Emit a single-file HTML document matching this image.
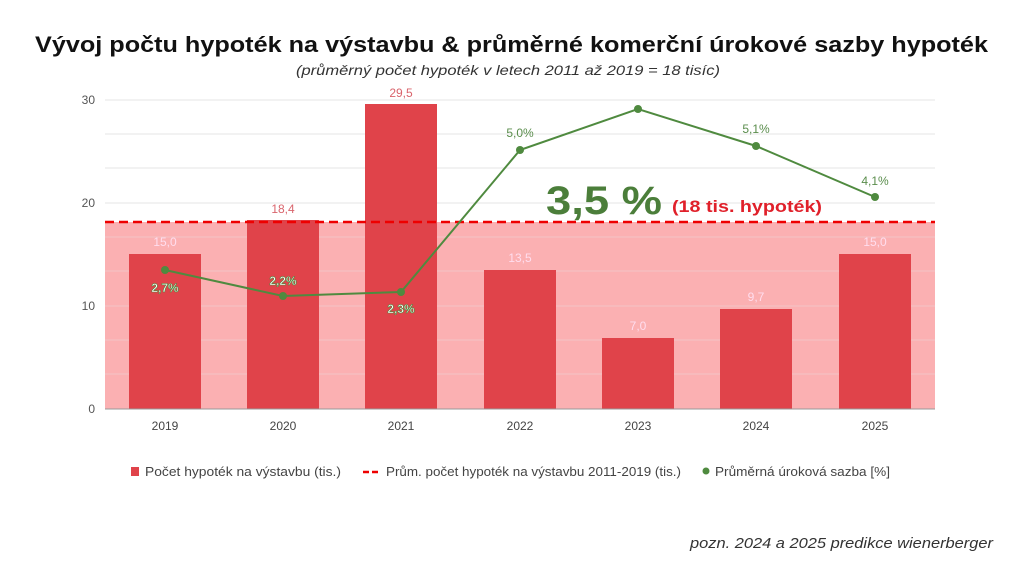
<!DOCTYPE html>
<html><head><meta charset="utf-8"><style>
body{margin:0;background:#fff;width:1024px;height:576px;overflow:hidden;font-family:"Liberation Sans",sans-serif}
</style></head><body>
<svg width="1024" height="576" viewBox="0 0 1024 576" xmlns="http://www.w3.org/2000/svg" font-family="Liberation Sans, sans-serif">
<text x="35" y="52" font-size="22" font-weight="bold" fill="#111" textLength="953" lengthAdjust="spacingAndGlyphs">Vývoj počtu hypoték na výstavbu &amp; průměrné komerční úrokové sazby hypoték</text>
<text x="296" y="75" font-size="14" font-style="italic" fill="#333" textLength="424" lengthAdjust="spacingAndGlyphs">(průměrný počet hypoték v letech 2011 až 2019 = 18 tisíc)</text>
<rect x="105" y="222" width="830" height="187" fill="#fbb0b2"/>
<g stroke="#e4e4e4" stroke-width="1">
<line x1="105" y1="100" x2="935" y2="100"/><line x1="105" y1="134" x2="935" y2="134"/><line x1="105" y1="168" x2="935" y2="168"/><line x1="105" y1="203" x2="935" y2="203"/><line x1="105" y1="237" x2="935" y2="237" stroke="#f3c4c6"/><line x1="105" y1="271" x2="935" y2="271" stroke="#f3c4c6"/><line x1="105" y1="306" x2="935" y2="306" stroke="#f3c4c6"/><line x1="105" y1="340" x2="935" y2="340" stroke="#f3c4c6"/><line x1="105" y1="374" x2="935" y2="374" stroke="#f3c4c6"/>
</g>
<g font-size="12" fill="#555" text-anchor="end">
<text x="95" y="104">30</text><text x="95" y="207">20</text><text x="95" y="310">10</text><text x="95" y="413">0</text>
</g>
<g fill="#e0434a">
<rect x="129" y="254" width="72" height="155"/>
<rect x="247" y="220" width="72" height="189"/>
<rect x="365" y="104" width="72" height="305"/>
<rect x="484" y="270" width="72" height="139"/>
<rect x="602" y="338" width="72" height="71"/>
<rect x="720" y="309" width="72" height="100"/>
<rect x="839" y="254" width="72" height="155"/>
</g>
<line x1="105" y1="409" x2="935" y2="409" stroke="#999"/>
<line x1="105" y1="222" x2="935" y2="222" stroke="#e00" stroke-width="2.5" stroke-dasharray="9,5"/>
<g font-size="12" fill="#d9646c" text-anchor="middle">
<text x="165" y="246" fill="#fde">15,0</text><text x="283" y="213">18,4</text><text x="401" y="97">29,5</text><text x="520" y="262" fill="#fde">13,5</text><text x="638" y="330" fill="#fde">7,0</text><text x="756" y="301" fill="#fde">9,7</text><text x="875" y="246" fill="#fde">15,0</text>
</g>
<polyline points="165,270 283,296 401,292 520,150 638,109 756,146 875,197" fill="none" stroke="#4f8a3f" stroke-width="2"/>
<g fill="#4f8a3f">
<circle cx="165" cy="270" r="4"/><circle cx="283" cy="296" r="4"/><circle cx="401" cy="292" r="4"/><circle cx="520" cy="150" r="4"/><circle cx="638" cy="109" r="4"/><circle cx="756" cy="146" r="4"/><circle cx="875" cy="197" r="4"/>
</g>
<g font-size="12" text-anchor="middle" font-weight="bold" fill="#fff" stroke="#4f8a3f" stroke-width="0.6">
<text x="165" y="292">2,7%</text><text x="283" y="285">2,2%</text><text x="401" y="313">2,3%</text>
</g>
<g font-size="12" text-anchor="middle" fill="#5a8d4c">
<text x="520" y="137">5,0%</text><text x="756" y="133">5,1%</text><text x="875" y="185">4,1%</text>
</g>
<text x="546" y="214" font-size="40" font-weight="bold" fill="#4b7e3a" textLength="116" lengthAdjust="spacingAndGlyphs">3,5 %</text>
<text x="672" y="212" font-size="17" font-weight="bold" fill="#e0202a" textLength="150" lengthAdjust="spacingAndGlyphs">(18 tis. hypoték)</text>
<g font-size="12" fill="#444" text-anchor="middle">
<text x="165" y="430">2019</text><text x="283" y="430">2020</text><text x="401" y="430">2021</text><text x="520" y="430">2022</text><text x="638" y="430">2023</text><text x="756" y="430">2024</text><text x="875" y="430">2025</text>
</g>
<g font-size="12.5" fill="#444">
<rect x="131" y="467" width="8" height="9" fill="#e0434a"/>
<text x="145" y="476" textLength="196" lengthAdjust="spacingAndGlyphs">Počet hypoték na výstavbu (tis.)</text>
<line x1="363" y1="472" x2="381" y2="472" stroke="#e00" stroke-width="2.5" stroke-dasharray="6,3"/>
<text x="386" y="476" textLength="295" lengthAdjust="spacingAndGlyphs">Prům. počet hypoték na výstavbu 2011-2019 (tis.)</text>
<circle cx="706" cy="471" r="3.5" fill="#4f8a3f"/>
<text x="715" y="476" textLength="175" lengthAdjust="spacingAndGlyphs">Průměrná úroková sazba [%]</text>
</g>
<text x="690" y="548" font-size="15" font-style="italic" fill="#333" textLength="303" lengthAdjust="spacingAndGlyphs">pozn. 2024 a 2025 predikce wienerberger</text>
</svg>
</body></html>
